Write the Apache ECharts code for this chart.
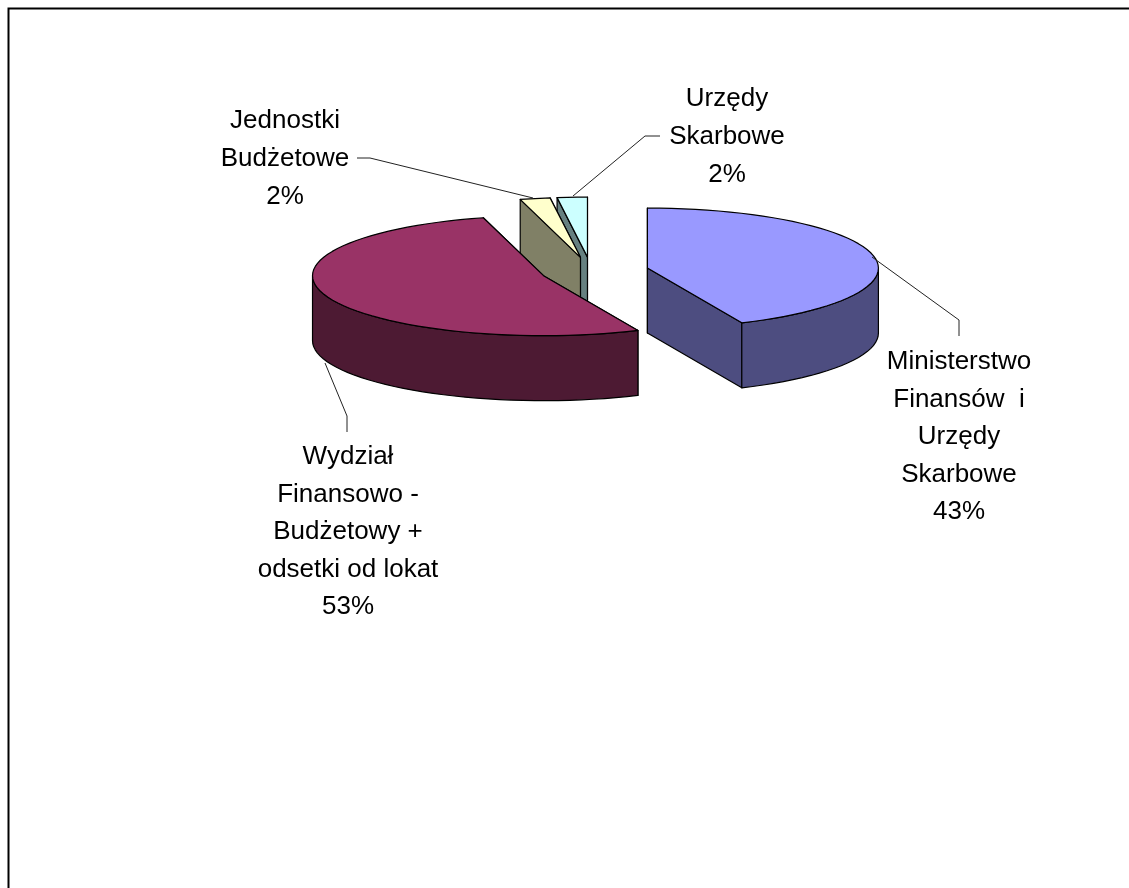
<!DOCTYPE html>
<html><head><meta charset="utf-8">
<style>html,body{margin:0;padding:0;background:#fff}#c{width:1129px;height:888px}</style>
<script src="https://cdn.jsdelivr.net/npm/echarts@6/dist/echarts.min.js"></script>
</head><body><div id="c"></div>
<script>
const categories = ['Ministerstwo Finansów i Urzędy Skarbowe','Wydział Finansowo - Budżetowy + odsetki od lokat','Jednostki Budżetowe','Urzędy Skarbowe'];
const values = [43.3, 52.5, 2.1, 2.1];
const labelLines = [
  ['Ministerstwo','Finansów  i','Urzędy','Skarbowe'],
  ['Wydział','Finansowo -','Budżetowy +','odsetki od lokat'],
  ['Jednostki','Budżetowe'],
  ['Urzędy','Skarbowe']
];
const topColors = ['#9999FF','#993366','#FFFFCC','#CCFFFF'];
const sideColors = ['#4D4D80','#4D1A33','#808066','#668080'];
const paintOrder = [3, 2, 0, 1];

// 3D pie layout
const pie = {cx: 594, cy: 271, rx: 231, ry: 60, depth: 65, explode: 0.232};
const sliceNudgeX = [1, 0, -3, -3];
const labelBoxes = [
  {x: 959, y: 362, step: 37.5},
  {x: 348, y: 457, step: 37.5},
  {x: 285, y: 121, step: 38},
  {x: 727, y: 99, step: 38}
];
const leaders = [
  [[872,257],[959,320],[959,336]],
  [[325,363],[347,416],[347,432]],
  [[357,158],[370,158],[533,198]],
  [[573,196],[645,136],[660,136]]
];

const total = values.reduce((a,b)=>a+b,0);
const rad = d => d*Math.PI/180;
let acc = 0;
const spans = values.map(v => {const s = acc; acc += v/total*360; return [s, acc];});

function renderItem(params, api) {
  const i = api.value(0);
  const [a0, a1] = spans[i];
  const mid = rad((a0+a1)/2);
  const cx = pie.cx + pie.explode*pie.rx*Math.sin(mid) + sliceNudgeX[i];
  const cy = pie.cy - pie.explode*pie.ry*Math.cos(mid);
  const pt = (deg, dz) => [cx + pie.rx*Math.sin(rad(deg)), cy - pie.ry*Math.cos(rad(deg)) + (dz||0)];
  const arc = (from, to, dz) => {
    const pts = [], n = Math.max(2, Math.ceil(Math.abs(to-from)/3));
    for (let k = 0; k <= n; k++) pts.push(pt(from+(to-from)*k/n, dz));
    return pts;
  };
  const d = pie.depth;
  const poly = (points, fill) => ({type:'polygon', shape:{points}, style:{fill, stroke:'#000', lineWidth:1.2, lineJoin:'round'}});
  const children = [];
  const radial = deg => poly([[cx,cy], pt(deg), pt(deg,d), [cx,cy+d]], sideColors[i]);
  children.push(radial(a1));
  children.push(radial(a0));
  const w0 = Math.max(a0,90), w1 = Math.min(a1,270);
  if (w1 > w0) children.push(poly(arc(w0,w1,0).concat(arc(w1,w0,d)), sideColors[i]));
  children.push(poly([[cx,cy]].concat(arc(a0,a1,0)), topColors[i]));
  return {type:'group', children};
}

const font = '"Liberation Sans", Arial, sans-serif';
const graphics = [
  {type:'polyline', silent:true, shape:{points:[[8.5,888],[8.5,8.5],[1129,8.5]]}, style:{fill:null, stroke:'#000', lineWidth:2}}
];
leaders.forEach(points => graphics.push({type:'polyline', silent:true, z:10, shape:{points}, style:{fill:null, stroke:'#222', lineWidth:1}}));
labelLines.forEach((lines, i) => {
  const box = labelBoxes[i];
  lines.concat(Math.round(values[i]) + '%').forEach((t, k) => graphics.push({
    type:'text', silent:true, z:10, x:box.x, y:box.y + k*box.step,
    style:{text:t, fill:'#000', font:'26px '+font, textAlign:'center', textVerticalAlign:'middle'}
  }));
});

const chart = echarts.init(document.getElementById('c'), null, {renderer:'canvas'});
chart.setOption({
  backgroundColor:'#fff',
  animation:false,
  tooltip:{show:false},
  graphic:graphics,
  series:[{
    type:'custom',
    coordinateSystem:'none',
    renderItem,
    silent:true,
    encode:{itemName:1},
    data:paintOrder.map(i => ({name:categories[i], value:[i, values[i]]}))
  }]
});
</script></body></html>
